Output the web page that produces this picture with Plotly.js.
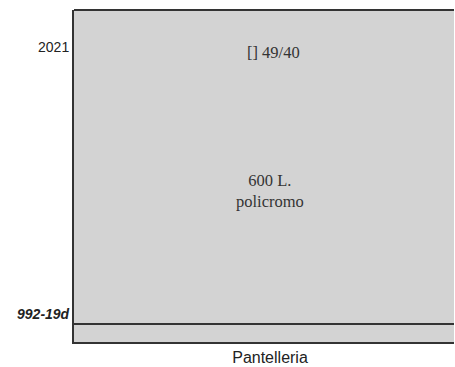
<!DOCTYPE html>
<html>
<head>
<meta charset="utf-8">
<script src="https://cdn.plot.ly/plotly-3.0.1.min.js"></script>
<style>html,body{margin:0;padding:0;background:#fff}#chart{width:455px;height:367px}</style>
</head>
<body>
<div id="chart"></div>
<script>
const sites = ['Pantelleria'];
const periods = ['992-19d', '2021'];
const periodLabels = ['<b><i>992-19d</i></b>', '2021'];
const topNote = '[] 49/40';
const midNote = '600 L.<br>policromo';

const traces = [{
  type: 'scatter', mode: 'markers',
  x: [sites[0], sites[0]], y: periods,
  marker: {opacity: 0}, hoverinfo: 'skip', showlegend: false
}];

const layout = {
  width: 455, height: 367,
  margin: {l: 74, r: 1, t: 10, b: 25},
  paper_bgcolor: '#ffffff',
  plot_bgcolor: '#d3d3d3',
  showlegend: false,
  font: {family: 'Liberation Sans, Arial, sans-serif', size: 14, color: '#222'},
  xaxis: {
    type: 'category', categoryarray: sites,
    range: [-0.5158, 0.4842],
    showgrid: false, zeroline: false, showline: true, linecolor: '#333', linewidth: 2,
    ticks: '', tickfont: {size: 16, color: '#222'}
  },
  yaxis: {
    type: 'category', categoryarray: periods,
    range: [-0.1049, 1.1386],
    tickvals: periods, ticktext: periodLabels,
    showgrid: false, zeroline: false, showline: true, linecolor: '#333', linewidth: 2,
    ticks: '', tickfont: {size: 14, color: '#222'}
  },
  shapes: [
    {type: 'line', xref: 'paper', yref: 'paper', x0: 0, x1: 1, y0: 1, y1: 1,
     line: {color: '#333', width: 2}},
    {type: 'line', xref: 'paper', yref: 'y', x0: 0, x1: 1, y0: -0.0375, y1: -0.0375,
     line: {color: '#333', width: 2}}
  ],
  annotations: [
    {x: 0.01, y: 0.978, xref: 'x', yref: 'y', text: topNote, showarrow: false,
     font: {family: 'Liberation Serif, Times New Roman, serif', size: 16.5, color: '#333'}},
    {x: 0, y: 0.461, xref: 'x', yref: 'y', text: midNote, showarrow: false,
     font: {family: 'Liberation Serif, Times New Roman, serif', size: 16.5, color: '#333'}}
  ]
};

Plotly.newPlot('chart', traces, layout, {displayModeBar: false, staticPlot: true});
</script>
</body>
</html>
